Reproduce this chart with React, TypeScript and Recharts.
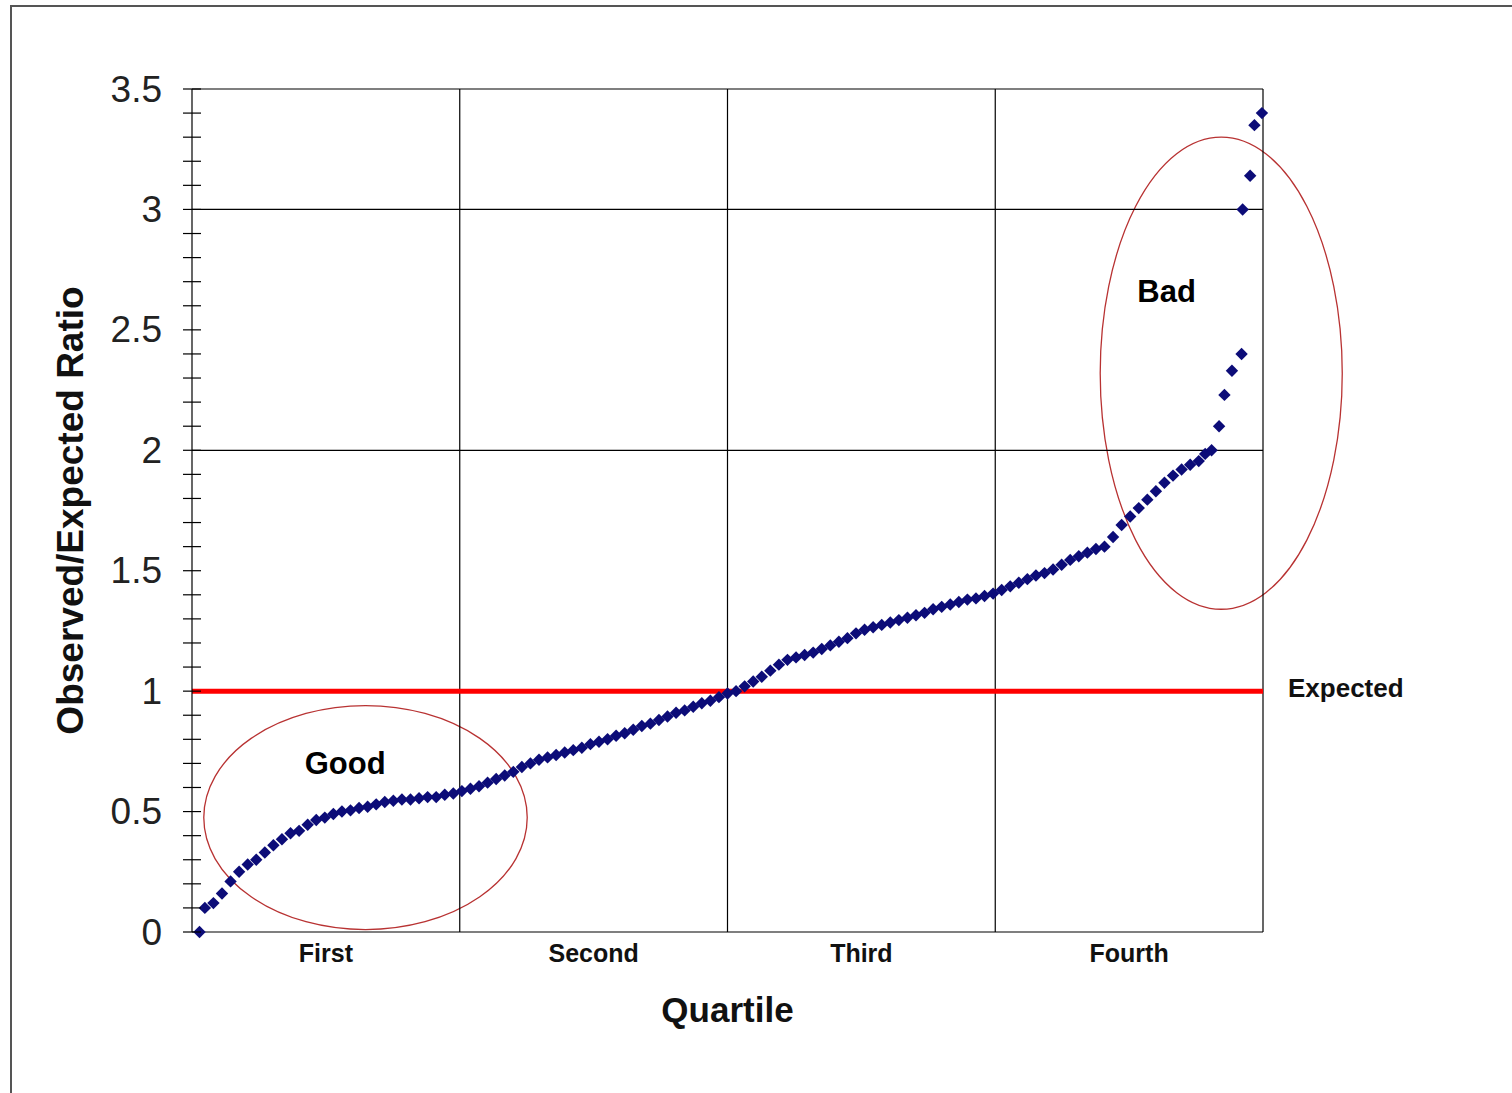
import { ScatterChart, Scatter, XAxis, YAxis, ReferenceLine, ReferenceArea, ReferenceDot } from 'recharts';

// percentile rank of each unit (x) and its observed/expected ratio (y)
const pct = [
  0.7, 1.2, 2.0, 2.8, 3.6, 4.4, 5.2, 6.0, 6.8, 7.6,
  8.4, 9.2, 10.0, 10.8, 11.6, 12.4, 13.2, 14.0, 14.8, 15.6,
  16.4, 17.2, 18.0, 18.8, 19.6, 20.4, 21.2, 22.0, 22.8, 23.6,
  24.4, 25.2, 26.0, 26.8, 27.6, 28.4, 29.2, 30.0, 30.8, 31.6,
  32.4, 33.2, 34.0, 34.8, 35.6, 36.4, 37.2, 38.0, 38.8, 39.6,
  40.4, 41.2, 42.0, 42.8, 43.6, 44.4, 45.2, 46.0, 46.8, 47.6,
  48.4, 49.2, 50.0, 50.8, 51.6, 52.4, 53.2, 54.0, 54.8, 55.6,
  56.4, 57.2, 58.0, 58.8, 59.6, 60.4, 61.2, 62.0, 62.8, 63.6,
  64.4, 65.2, 66.0, 66.8, 67.6, 68.4, 69.2, 70.0, 70.8, 71.6,
  72.4, 73.2, 74.0, 74.8, 75.6, 76.4, 77.2, 78.0, 78.8, 79.6,
  80.4, 81.2, 82.0, 82.8, 83.6, 84.4, 85.2, 86.0, 86.8, 87.6,
  88.4, 89.2, 90.0, 90.8, 91.6, 92.4, 93.2, 94.0, 94.6, 95.2,
  95.9, 96.4, 97.1, 98.0, 98.1, 98.8, 99.2, 99.9,
];

const ratio = [
  0, 0.10, 0.12, 0.16, 0.21, 0.25, 0.28, 0.30, 0.33, 0.36,
  0.385, 0.41, 0.42, 0.445, 0.465, 0.475, 0.49, 0.50, 0.505, 0.515,
  0.52, 0.53, 0.54, 0.545, 0.55, 0.55, 0.555, 0.56, 0.56, 0.57,
  0.575, 0.585, 0.595, 0.605, 0.62, 0.635, 0.65, 0.665, 0.685, 0.70,
  0.715, 0.725, 0.735, 0.745, 0.755, 0.765, 0.78, 0.79, 0.80, 0.815,
  0.825, 0.84, 0.855, 0.865, 0.88, 0.895, 0.91, 0.92, 0.935, 0.95,
  0.96, 0.975, 0.99, 1.00, 1.02, 1.04, 1.06, 1.085, 1.11, 1.13,
  1.14, 1.15, 1.16, 1.175, 1.19, 1.205, 1.22, 1.24, 1.255, 1.265,
  1.275, 1.285, 1.295, 1.305, 1.315, 1.325, 1.34, 1.35, 1.36, 1.37,
  1.38, 1.385, 1.395, 1.405, 1.42, 1.435, 1.45, 1.465, 1.48, 1.49,
  1.505, 1.525, 1.545, 1.56, 1.575, 1.59, 1.60, 1.64, 1.69, 1.725,
  1.76, 1.795, 1.83, 1.865, 1.895, 1.92, 1.94, 1.955, 1.985, 2.00,
  2.10, 2.23, 2.33, 2.40, 3.00, 3.14, 3.35, 3.40,
];

const quartileTicks = [12.5, 37.5, 62.5, 87.5];
const quartileLabels = ['First', 'Second', 'Third', 'Fourth'];
const quartileBounds = [25, 50, 75, 100];

const yTicks = [
  0, 0.1, 0.2, 0.3, 0.4, 0.5, 0.6, 0.7, 0.8, 0.9,
  1, 1.1, 1.2, 1.3, 1.4, 1.5, 1.6, 1.7, 1.8, 1.9,
  2, 2.1, 2.2, 2.3, 2.4, 2.5, 2.6, 2.7, 2.8, 2.9,
  3, 3.1, 3.2, 3.3, 3.4, 3.5,
];
const yGrid = [2, 3, 3.5];
const expected = 1;

const data = pct.map((p, i) => ({ x: p, y: ratio[i] }));

const FONT = '"Liberation Sans", Arial, sans-serif';
const NAVY = '#0c0c78';
const ELLIPSE = '#b83232';

const Diamond = (props: any) => {
  const { cx, cy } = props;
  const r = 6.2;
  return (
    <polygon
      points={`${cx},${cy - r} ${cx + r},${cy} ${cx},${cy + r} ${cx - r},${cy}`}
      fill={NAVY}
    />
  );
};

const YTick = (props: any) => {
  const { x, y, payload } = props;
  const v = payload.value;
  const major = Math.abs(v * 2 - Math.round(v * 2)) < 1e-6;
  return (
    <g>
      <line x1={x - 9} x2={x + 9} y1={y} y2={y} stroke="#000" strokeWidth={1.2} />
      {major && (
        <text x={x - 30} y={y} textAnchor="end" dominantBaseline="central" fontSize={37} fontFamily={FONT} fill="#222">
          {v}
        </text>
      )}
    </g>
  );
};

const XTick = (props: any) => {
  const { x, y, payload } = props;
  const idx = quartileTicks.indexOf(payload.value);
  return (
    <text x={x} y={y + 21} textAnchor="middle" dominantBaseline="central" fontSize={25} fontWeight="bold" fontFamily={FONT} fill="#111">
      {quartileLabels[idx]}
    </text>
  );
};

const EllipseShape = (props: any) => {
  const { x, y, width, height } = props;
  return (
    <ellipse
      cx={x + width / 2}
      cy={y + height / 2}
      rx={width / 2}
      ry={height / 2}
      fill="none"
      stroke={ELLIPSE}
      strokeWidth={1.3}
    />
  );
};

const ExpectedLabel = (props: any) => {
  const { viewBox } = props;
  return (
    <text x={viewBox.x + viewBox.width + 25} y={viewBox.y - 3} dominantBaseline="central" fontSize={26} fontWeight="bold" fontFamily={FONT} fill="#111">
      Expected
    </text>
  );
};

const noteLabel = (text: string) => ({
  value: text,
  position: 'center' as const,
  fontSize: 31,
  fontWeight: 'bold',
  fontFamily: FONT,
  fill: '#000',
});

export default function App() {
  return (
    <div style={{ position: 'absolute', left: 0, top: 0, width: 1512, height: 1093, background: '#fff' }}>
      <div
        style={{
          position: 'absolute',
          left: 10,
          top: 5,
          width: 1510,
          height: 1086,
          borderLeft: '2px solid #555',
          borderTop: '2px solid #555',
          borderBottom: '2px solid #e8e8e8',
        }}
      />
      <div style={{ position: 'absolute', left: 0, top: 0 }}>
        <ScatterChart width={1512} height={1093} margin={{ top: 89, right: 249, bottom: 41, left: 62 }}>
          <XAxis
            type="number"
            dataKey="x"
            domain={[0, 100]}
            ticks={quartileTicks}
            tick={<XTick />}
            tickLine={false}
            tickSize={0}
            tickMargin={0}
            interval={0}
            height={120}
            axisLine={{ stroke: '#000', strokeWidth: 1.2 }}
            label={{
              content: (p: any) => {
                const vb = p.viewBox;
                return (
                  <text x={vb.x + vb.width / 2} y={vb.y + 77} textAnchor="middle" dominantBaseline="central" fontSize={35} fontWeight="bold" fontFamily={FONT} fill="#111">
                    Quartile
                  </text>
                );
              },
            }}
          />
          <YAxis
            type="number"
            dataKey="y"
            domain={[0, 3.5]}
            ticks={yTicks}
            tick={<YTick />}
            tickLine={false}
            tickSize={0}
            tickMargin={0}
            interval={0}
            width={130}
            axisLine={{ stroke: '#000', strokeWidth: 1.2 }}
            label={{
              content: (p: any) => {
                const vb = p.viewBox;
                const cx = vb.x + 8;
                const cy = vb.y + vb.height / 2;
                return (
                  <text x={cx} y={cy} transform={`rotate(-90 ${cx} ${cy})`} textAnchor="middle" dominantBaseline="central" fontSize={37} fontWeight="bold" fontFamily={FONT} fill="#111">
                    Observed/Expected Ratio
                  </text>
                );
              },
            }}
          />
          {yGrid.map((v) => (
            <ReferenceLine key={`gy${v}`} y={v} stroke="#000" strokeWidth={1.2} />
          ))}
          {quartileBounds.map((v) => (
            <ReferenceLine key={`gx${v}`} x={v} stroke="#000" strokeWidth={1.2} />
          ))}
          <ReferenceLine y={expected} stroke="#ff0000" strokeWidth={5} label={<ExpectedLabel />} />
          <ReferenceArea x1={1.1} x2={31.3} y1={0.01} y2={0.94} ifOverflow="visible" shape={<EllipseShape />} />
          <ReferenceArea x1={84.8} x2={107.4} y1={1.34} y2={3.3} ifOverflow="visible" shape={<EllipseShape />} />
          <ReferenceDot x={14.3} y={0.70} r={0} ifOverflow="visible" label={noteLabel('Good')} />
          <ReferenceDot x={91.0} y={2.66} r={0} ifOverflow="visible" label={noteLabel('Bad')} />
          <Scatter data={data} shape={<Diamond />} isAnimationActive={false} />
        </ScatterChart>
      </div>
    </div>
  );
}
